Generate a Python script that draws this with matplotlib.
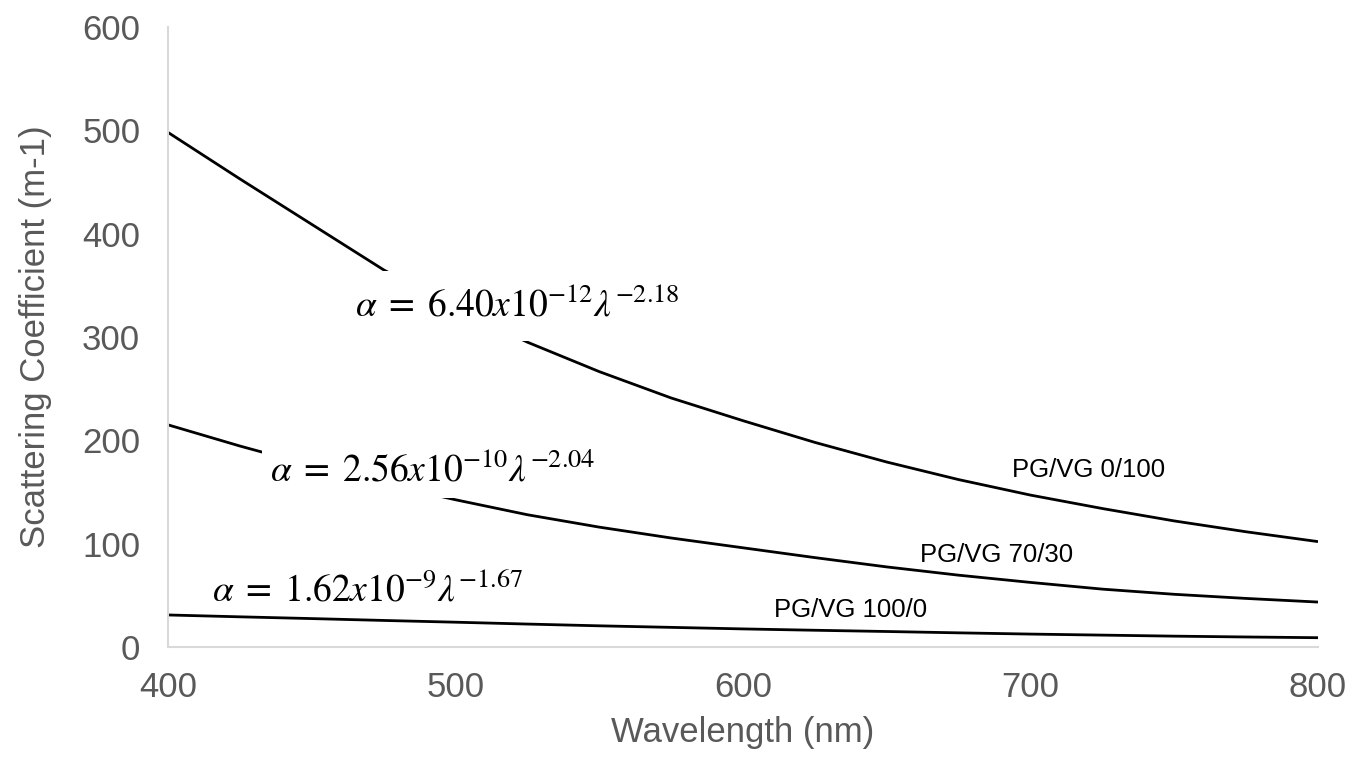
import matplotlib
matplotlib.use("Agg")
import matplotlib.pyplot as plt
import numpy as np

# Data
wavelength = [400, 425, 450, 475, 500, 525, 550, 575, 600, 625, 650, 675, 700, 725, 750, 775, 800]
pgvg_0_100 = [498, 453, 409, 365, 328, 295, 266.5, 241, 219, 198, 179, 162, 147, 134, 122, 111.5, 102]
pgvg_70_30 = [215, 194.5, 175.5, 158, 142.5, 128, 116, 105.5, 96, 86.5, 77.5, 69.5, 62.5, 56, 51, 47, 43.5]
pgvg_100_0 = [31, 29.2, 27.5, 25.7, 24, 22.2, 20.5, 19, 17.5, 16.2, 15, 13.7, 12.5, 11.5, 10.5, 9.7, 9]

series_labels = ["PG/VG 0/100", "PG/VG 70/30", "PG/VG 100/0"]
equations = [r"$\alpha\;=\;6.40x10^{-12}\lambda^{-2.18}$",
             r"$\alpha\;=\;2.56x10^{-10}\lambda^{-2.04}$",
             r"$\alpha\;=\;1.62x10^{-9}\lambda^{-1.67}$"]

x_ticks = [400, 500, 600, 700, 800]
y_ticks = [0, 100, 200, 300, 400, 500, 600]

plt.rcParams['font.family'] = ['Liberation Sans', 'DejaVu Sans']
plt.rcParams['mathtext.fontset'] = 'stix'

gray = '#595959'
fig = plt.figure(figsize=(13.67, 7.60), dpi=100)
ax = fig.add_axes([168/1367, 1 - 647/760, (1318-168)/1367, (647-27)/760])

for ys in (pgvg_0_100, pgvg_70_30, pgvg_100_0):
    ax.plot(wavelength, ys, color='black', lw=2.0, zorder=2,
            solid_capstyle='butt', solid_joinstyle='round')

ax.set_xlim(400, 800)
ax.set_ylim(0, 600)
ax.set_xticks(x_ticks)
ax.set_yticks(y_ticks)
ax.tick_params(length=0, labelsize=25, colors=gray)
ax.tick_params(axis='x', pad=17)
ax.tick_params(axis='y', pad=20)
for s in ('top', 'right'):
    ax.spines[s].set_visible(False)
for s in ('left', 'bottom'):
    ax.spines[s].set_color('#d9d9d9')
    ax.spines[s].set_linewidth(1.5)

ax.set_xlabel("Wavelength (nm)", fontsize=25, color=gray, labelpad=9)
ax.set_ylabel("Scattering Coefficient (m-1)", fontsize=25, color=gray, labelpad=22)

# equation annotations (white box hides the line behind)
eq_pos = [(465, 320), (435.5, 160), (415.2, 44)]
eq_pads = [12, 6, None]
for (xx, yy), eq, pd in zip(eq_pos, equations, eq_pads):
    kw = {}
    if pd is not None:
        kw['bbox'] = dict(facecolor='white', edgecolor='none', pad=pd)
    ax.text(xx, yy, eq, fontsize=27, color='black', ha='left', va='baseline',
            zorder=3, **kw)

lab_pos = [(693.4, 164.5), (661.6, 82), (610.8, 28.7)]
for (xx, yy), lab in zip(lab_pos, series_labels):
    ax.text(xx, yy, lab, fontsize=18.5, color='black', ha='left', va='baseline', zorder=3)

fig.savefig("out.png", dpi=100)
